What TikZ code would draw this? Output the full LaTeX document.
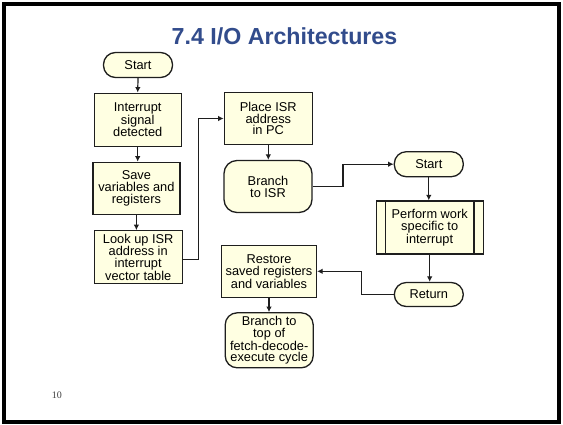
\documentclass[tikz,border=0pt]{standalone}
\usepackage{fontspec}
\setmainfont{Liberation Sans}
\newfontfamily\seriffont{Liberation Serif}
\usetikzlibrary{arrows.meta}
\definecolor{cream}{RGB}{255,255,226}
\definecolor{titleblue}{RGB}{50,76,140}
\definecolor{edge}{RGB}{30,30,30}
\tikzset{
  base/.style={draw=edge, fill=cream, line width=1.3pt, align=center, inner sep=1pt,
    font=\fontsize{12.8}{11.9}\selectfont},
  box/.style={base, rectangle},
  term/.style={base, rectangle, rounded corners=12pt, minimum width=69pt, minimum height=25pt},
  rbox/.style={base, rectangle, rounded corners=13pt},
  arr/.style={draw=edge, line width=1.2pt, -{Latex[length=5.5pt,width=5.5pt]}},
}
\begin{document}
\begin{tikzpicture}[x=1pt,y=-1pt]
\useasboundingbox (0,0) rectangle (563,424);
\fill[white] (0,0) rectangle (563,424);
\draw[line width=4pt] (4,3.8) rectangle (559,422.3);

\node[font=\bfseries\fontsize{23.2}{25}\selectfont, text=titleblue] (title) at (284.5,36.5) {7.4 I/O Architectures};
\node[font=\seriffont\fontsize{10}{10}\selectfont, text=black!75] (pg) at (57,395.5) {10};

\node[term] (s1) at (138,65) {Start};
\node[box, minimum width=87pt, minimum height=53pt] (n1) at (137.7,119.7) {Interrupt\\signal\\detected};
\node[box, minimum width=87pt, minimum height=52pt] (n2) at (136.4,188.3) {Save\\variables and\\registers};
\node[box, minimum width=88pt, minimum height=53pt] (n3) at (138.2,257.3) {Look up ISR\\address in\\interrupt\\vector table};
\node[box, minimum width=88pt, minimum height=52pt] (n4) at (268.3,118.5) {Place ISR\\address\\in PC};
\node[rbox, minimum width=88pt, minimum height=52pt] (n5) at (268,186.5) {Branch\\to ISR};
\node[term] (s2) at (428.8,164.2) {Start};
\node[box, minimum width=107pt, minimum height=53pt] (n6) at (429.7,227.5) {Perform work\\specific to\\interrupt};
\draw[edge, line width=1.3pt] ([xshift=10pt]n6.north west) -- ([xshift=10pt]n6.south west);
\draw[edge, line width=1.3pt] ([xshift=-10pt]n6.north east) -- ([xshift=-10pt]n6.south east);
\node[term, minimum height=24pt] (r) at (428.8,294.5) {Return};
\node[box, minimum width=95pt, minimum height=52pt] (n7) at (269,271.3) {Restore\\saved registers\\and variables};
\node[rbox, rounded corners=12pt, minimum width=88pt, minimum height=55pt] (n8) at (269.2,340.3) {Branch to\\top of\\fetch-decode-\\execute cycle};

\draw[arr] (s1.south) -- (n1.north);
\draw[arr] (n1.south) -- (n1.south |- n2.north);
\draw[arr] (n2.south) -- (n2.south |- n3.north);
\draw[arr] ([yshift=-2.5pt]n3.east) -- ++(16,0) |- (n4.west);
\draw[arr] (n4.south) -- (n4.south |- n5.north);
\draw[arr] (n5.east) -- (343,186.5) |- (s2.west);
\draw[arr] (s2.south) -- (s2.south |- n6.north);
\draw[arr] (n6.south) -- (n6.south |- r.north);
\draw[arr] (r.west) -- (361.7,294.5) |- (n7.east);
\draw[arr] (n7.south) -- (n7.south |- n8.north);
\end{tikzpicture}
\end{document}
